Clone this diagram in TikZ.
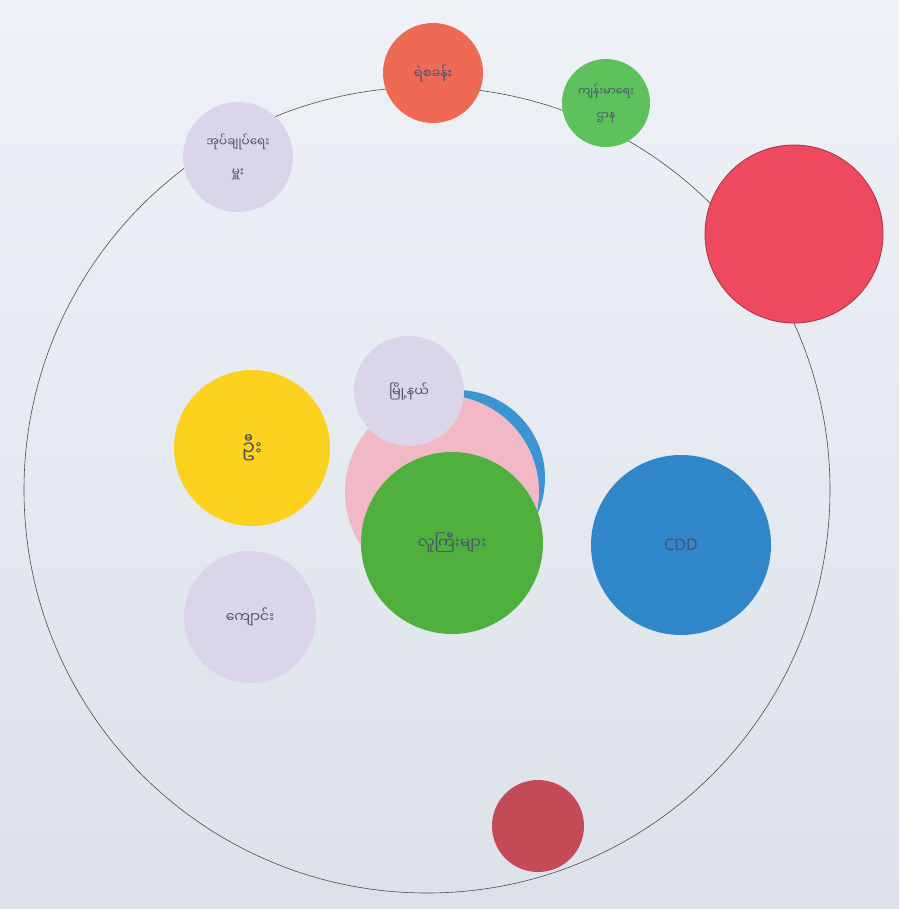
\documentclass[tikz,border=0pt]{standalone}
\usepackage{fontspec}
\newfontfamily\mmfont[Script=Myanmar]{Noto Sans Myanmar UI}
\newfontfamily\latinfont{Noto Sans}
\definecolor{paper}{HTML}{EEF2F7}
\definecolor{papershade}{HTML}{DDE2EA}
\definecolor{penink}{HTML}{4A5270}
\definecolor{lavender}{HTML}{DAD5E8}
\definecolor{tomato}{HTML}{EE6A55}
\definecolor{leaf}{HTML}{5EC25C}
\definecolor{crimson}{HTML}{EE4A5F}
\definecolor{blush}{HTML}{F2B8C6}
\definecolor{sky}{HTML}{3A95D2}
\definecolor{grass}{HTML}{4FB03E}
\definecolor{sun}{HTML}{FCD21E}
\definecolor{ocean}{HTML}{2F86C8}
\definecolor{brick}{HTML}{C44B55}

\begin{document}
\begin{tikzpicture}[x=1pt, y=-1pt,
  blob/.style={
    circle, fill=#1, inner sep=0pt, align=center,
    font=\mmfont\fontsize{13}{26}\selectfont, text=penink
  },
  ring/.style={
    circle, draw=black!70, line width=0.6pt, inner sep=0pt
  }
]

% Paper
\shade[top color=paper, bottom color=papershade] (0,0) rectangle (899,909);
\useasboundingbox (0,0) rectangle (899,909);

% Village ring
\node[ring, minimum size=806] (village) at (427,490) {};

% Around the ring
\node[blob=lavender, minimum size=110, font=\mmfont\fontsize{12}{30}\selectfont] (admin) at (238,157) {အုပ်ချုပ်ရေး\\မှူး};
\node[blob=tomato,   minimum size=100] (police) at (433,73)  {ရဲစခန်း};
\node[blob=leaf,     minimum size=88, font=\mmfont\fontsize{11}{24}\selectfont] (health) at (606,103) {ကျန်းမာရေး\\ဌာန};
\node[blob=crimson, draw=crimson!70!black, line width=0.8pt, minimum size=178] (bigred) at (794,234) {};

% Centre cluster
\node[blob=sky,      minimum size=176] (ngo)    at (457,478) {};
\node[blob=blush,    minimum size=194] (pink)   at (442,492) {};
\node[blob=lavender, minimum size=110] (township) at (409,391) {မြို့နယ်};
\node[blob=grass,    minimum size=182, font=\mmfont\fontsize{15}{26}\selectfont] (elders) at (452,543) {လူကြီးများ};

% Inside the ring
\node[blob=sun,      minimum size=156, font=\mmfont\fontsize{20}{26}\selectfont] (yellow) at (252,448) {ဦး};
\node[blob=ocean,    minimum size=180, font=\latinfont\fontsize{16}{20}\selectfont] (cdd) at (681,545) {CDD};
\node[blob=lavender, minimum size=132, font=\mmfont\fontsize{14}{26}\selectfont] (school) at (250,617) {ကျောင်း};

% Bottom
\node[blob=brick,    minimum size=92]  (bottom) at (538,826) {};

\end{tikzpicture}
\end{document}
